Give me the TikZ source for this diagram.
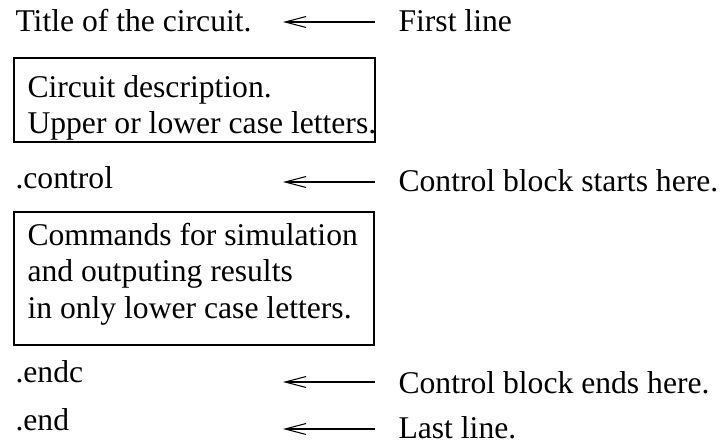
\documentclass[tikz,border=0pt]{standalone}
\usepackage{fontspec}
\setmainfont{Liberation Serif}
\usepackage{tikz}
\usetikzlibrary{arrows.meta}

\begin{document}
\begin{tikzpicture}[
      every node/.style={inner sep=0pt, font=\fontsize{18pt}{20.6pt}\selectfont},
      frame/.style={draw, line width=0.6pt},
      >={Straight Barb[length=4.2mm, width=2.2mm]},
      line width=0.6pt
    ]
      \useasboundingbox (0,0) rectangle (14.5,-8.96);
      % left column
      \node[anchor=base west] (title) at (0.3,-0.64) {Title of the circuit.};
      \draw[frame] (0.28,-1.16) rectangle (7.5,-2.84);
      \node[anchor=north west, align=left] (desc) at (0.54,-1.5) {Circuit description.\\Upper or lower case letters.};
      \node[anchor=base west] (ctrl) at (0.3,-3.78) {.control};
      \draw[frame] (0.28,-4.24) rectangle (7.48,-6.9);
      \node[anchor=north west, align=left] (cmds) at (0.54,-4.46) {Commands for simulation\\and outputing results\\in only lower case letters.};
      \node[anchor=base west] (endc) at (0.3,-7.64) {.endc};
      \node[anchor=base west] (end) at (0.3,-8.6) {.end};
      % right column
      \node[anchor=base west] (first) at (7.96,-0.64) {First line};
      \node[anchor=base west] (starts) at (7.96,-3.84) {Control block starts here.};
      \node[anchor=base west] (ends) at (7.96,-7.86) {Control block ends here.};
      \node[anchor=base west] (last) at (7.96,-8.76) {Last line.};
      % arrows
      \coordinate (t1) at (7.5,-0.44);  \coordinate (h1) at (5.66,-0.44);
      \coordinate (t2) at (7.5,-3.64);  \coordinate (h2) at (5.66,-3.64);
      \coordinate (t3) at (7.5,-7.64);  \coordinate (h3) at (5.66,-7.64);
      \coordinate (t4) at (7.5,-8.58);  \coordinate (h4) at (5.66,-8.58);
      \draw[->] (t1) -- (h1);
      \draw[->] (t2) -- (h2);
      \draw[->] (t3) -- (h3);
      \draw[->] (t4) -- (h4);
    \end{tikzpicture}
\end{document}
